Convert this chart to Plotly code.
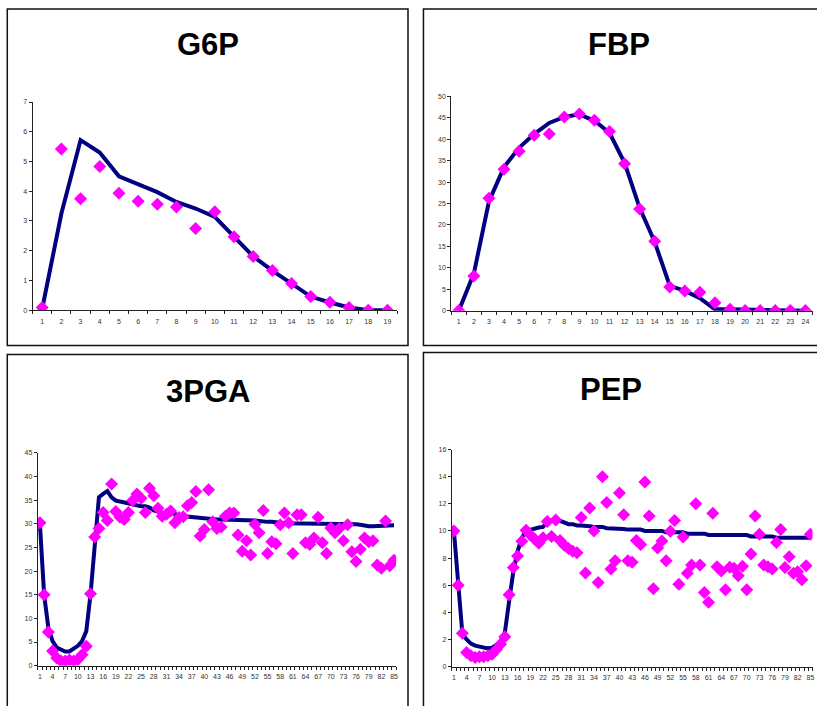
import plotly.graph_objects as go

# ---------------- data ----------------
g6p_x = list(range(1, 20))
g6p_model = [0.05, 3.25, 5.72, 5.3, 4.5, 4.25, 3.97, 3.64, 3.42, 3.14, 2.47, 1.81, 1.33, 0.89, 0.46, 0.26, 0.09, 0.0, 0.0]
g6p_data = [0.09, 5.42, 3.75, 4.83, 3.93, 3.66, 3.56, 3.47, 2.75, 3.31, 2.47, 1.81, 1.34, 0.9, 0.46, 0.27, 0.09, 0.0, 0.0]

fbp_x = list(range(1, 25))
fbp_model = [0, 8.7, 25.5, 33.5, 38.0, 41.2, 43.8, 45.2, 45.8, 44.3, 41.5, 34.5, 24.0, 16.0, 5.8, 4.6, 2.9, 0.3, 0.3, 0.2, 0.1, 0, 0, 0]
fbp_data = [0, 8.1, 26.2, 33.0, 37.2, 40.9, 41.2, 45.2, 45.9, 44.4, 41.8, 34.3, 23.7, 16.2, 5.5, 4.6, 4.3, 1.85, 0.3, 0, 0, 0, 0, 0]

pga_x = list(range(1, 86))
pga_model = [30.0, 15.0, 8.0, 5.2, 3.8, 3.3, 3.0, 3.0, 3.5, 4.2, 5.2, 7.3, 15.0, 25.5, 35.6, 36.3, 36.9, 35.6, 34.9, 34.7,
             34.5, 34.2, 34.0, 33.9, 33.7, 33.7, 33.4, 32.8, 32.5, 32.3, 32.2, 32.2, 32.1, 31.7, 31.6, 31.6, 31.5, 31.2, 31.1, 31.0,
             30.9, 30.9, 30.9, 30.9, 30.9, 30.9, 30.8, 30.7, 30.7, 30.7, 30.7, 30.7, 30.6, 30.4, 30.4, 30.4, 30.4, 30.2, 30.1, 30.1,
             30.1, 30.1, 30.1, 30.1, 30.1, 30.1, 29.9, 29.9, 29.9, 29.9, 29.9, 29.9, 29.9, 29.9, 29.9, 29.9, 29.8, 29.6, 29.5, 29.5,
             29.5, 29.7, 29.7, 29.7, 29.7]
pga_data = [30.2, 15.0, 7.1, 3.1, 1.6, 1.0, 1.0, 1.2, 1.0, 1.3, 2.3, 4.1, 15.2, 27.2, 29.0, 32.4, 30.7, 38.4, 32.6, 31.4,
            30.9, 32.4, 34.9, 36.3, 35.4, 32.4, 37.5, 35.9, 33.3, 31.6, 32.0, 32.7, 30.2, 31.3, 31.5, 33.8, 34.5, 36.8, 27.4, 28.8,
            37.2, 30.4, 29.0, 29.3, 31.6, 32.3, 32.3, 27.6, 24.2, 26.4, 23.4, 29.9, 28.1, 32.8, 23.7, 26.2, 25.8, 29.8, 32.3, 30.2,
            23.7, 31.9, 31.9, 26.0, 25.6, 27.0, 31.4, 26.0, 23.7, 29.1, 28.1, 29.0, 26.4, 29.8, 24.1, 22.0, 24.6, 27.0, 26.2, 26.4,
            21.3, 20.6, 30.6, 21.1, 22.3]

pep_x = list(range(1, 86))
pep_model = [10.0, 6.0, 2.4, 2.0, 1.7, 1.55, 1.5, 1.4, 1.35, 1.4, 1.6, 1.9, 2.5, 4.8, 7.0, 8.5, 9.5, 10.0, 10.1, 10.2,
             10.25, 10.3, 10.7, 10.75, 10.8, 10.75, 10.6, 10.5, 10.5, 10.4, 10.4, 10.4, 10.35, 10.3, 10.3, 10.3, 10.2, 10.2, 10.2, 10.2,
             10.15, 10.1, 10.1, 10.1, 10.1, 10.0, 10.0, 10.0, 10.0, 10.0, 9.9, 9.9, 9.9, 9.9, 9.9, 9.8, 9.8, 9.8, 9.8, 9.8,
             9.7, 9.7, 9.7, 9.7, 9.7, 9.7, 9.7, 9.7, 9.7, 9.7, 9.6, 9.6, 9.6, 9.6, 9.6, 9.6, 9.5, 9.5, 9.5, 9.5,
             9.5, 9.5, 9.5, 9.5, 9.5]
pep_data = [10.0, 6.0, 2.46, 1.05, 0.8, 0.68, 0.73, 0.73, 0.8, 0.92, 1.27, 1.65, 2.2, 5.3, 7.3, 8.15, 9.25, 10.05, 9.7, 9.4,
            9.1, 9.5, 10.7, 9.6, 10.8, 9.3, 8.95, 8.7, 8.5, 8.4, 11.0, 6.9, 11.7, 10.0, 6.2, 14.0, 12.1, 7.2, 7.8, 12.8,
            11.2, 7.8, 7.7, 9.3, 9.0, 13.6, 11.1, 5.74, 8.75, 9.26, 7.8, 9.97, 10.77, 6.08, 9.56, 6.88, 7.5, 12.0, 7.5, 5.47,
            4.74, 11.3, 7.37, 7.05, 5.67, 7.32, 7.25, 6.7, 7.4, 5.67, 8.3, 11.1, 9.75, 7.5, 7.37, 7.2, 9.15, 10.1, 7.3, 8.1,
            6.88, 7.0, 6.4, 7.44, 9.75]

titles = ["G6P", "FBP", "3PGA", "PEP"]

W, H = 817, 706

def fx(px):
    return px / W

def fy(py):
    return 1 - py / H

panels = [
    dict(x=g6p_x, m=g6p_model, d=g6p_data, ymax=7, dt=1, step=1, area=(32.7, 398, 99, 309.3), tc=(208.5, 41)),
    dict(x=fbp_x, m=fbp_model, d=fbp_data, ymax=50, dt=5, step=1, area=(452.4, 814.9, 93.3, 309.7), tc=(621, 41)),
    dict(x=pga_x, m=pga_model, d=pga_data, ymax=45, dt=5, step=3, area=(37.9, 397.1, 453.3, 668.3), tc=(209, 391)),
    dict(x=pep_x, m=pep_model, d=pep_data, ymax=16, dt=2, step=3, area=(452.9, 814.5, 450, 669.3), tc=(613, 389)),
]

fig = go.Figure()
layout = dict(
    width=W, height=H, margin=dict(l=0, r=0, t=0, b=0),
    paper_bgcolor="white", plot_bgcolor="white", showlegend=False,
    font=dict(family="Liberation Sans, Arial, sans-serif"),
)
annotations = []
shapes = []

for i, p in enumerate(panels):
    k = "" if i == 0 else str(i + 1)
    xa, ya = "x" + k, "y" + k
    fig.add_trace(go.Scatter(x=p["x"], y=p["m"], mode="lines", xaxis=xa, yaxis=ya,
                             line=dict(color="#000080", width=4), hoverinfo="skip"))
    fig.add_trace(go.Scatter(x=p["x"], y=p["d"], mode="markers", xaxis=xa, yaxis=ya,
                             marker=dict(symbol="diamond", size=10, color="#FF00FF",
                                         line=dict(width=0)), hoverinfo="skip"))
    x0, x1, yt, yb = p["area"]
    n = len(p["x"])
    labels = [v for v in p["x"] if (v - 1) % p["step"] == 0]
    layout["xaxis" + k] = dict(
        domain=[fx(x0), fx(x1)], anchor=ya, range=[0.5, n + 0.5],
        tickvals=labels, ticktext=[str(v) for v in labels], ticks="",
        showline=True, linecolor="#222", linewidth=1, showgrid=False, zeroline=False,
        tickfont=dict(size=7, color="#333"), ticklabelstandoff=4,
        minor=dict(tickvals=[v + 0.5 for v in [0] + p["x"]], ticks="outside",
                   ticklen=3, tickcolor="#222", tickwidth=1, showgrid=False),
    )
    layout["yaxis" + k] = dict(
        domain=[fy(yb), fy(yt)], anchor=xa, range=[0, p["ymax"]], dtick=p["dt"],
        ticks="outside", ticklen=3, tickcolor="#222", tickwidth=1,
        showline=True, linecolor="#222", linewidth=1, showgrid=False, zeroline=False,
        tickfont=dict(size=7, color="#333"),
    )
    annotations.append(dict(text="<b>" + titles[i] + "</b>", x=fx(p["tc"][0]), y=fy(p["tc"][1]),
                            xref="paper", yref="paper", showarrow=False, xanchor="center", yanchor="middle",
                            font=dict(size=31, color="black", family="Liberation Sans, Arial, sans-serif")))

boxes = [(7.3, 5, 409, 345), (424.5, 5, 830, 345), (7.3, 354, 409, 720), (424.5, 352, 830, 720)]
for (bx0, by0, bx1, by1) in boxes:
    shapes.append(dict(type="rect", xref="paper", yref="paper", x0=fx(bx0), x1=fx(bx1), y0=fy(by1), y1=fy(by0),
                       line=dict(color="#111", width=1.5), fillcolor="rgba(0,0,0,0)", layer="below"))

layout["annotations"] = annotations
layout["shapes"] = shapes
fig.update_layout(**layout)
fig.write_html("out.html")
